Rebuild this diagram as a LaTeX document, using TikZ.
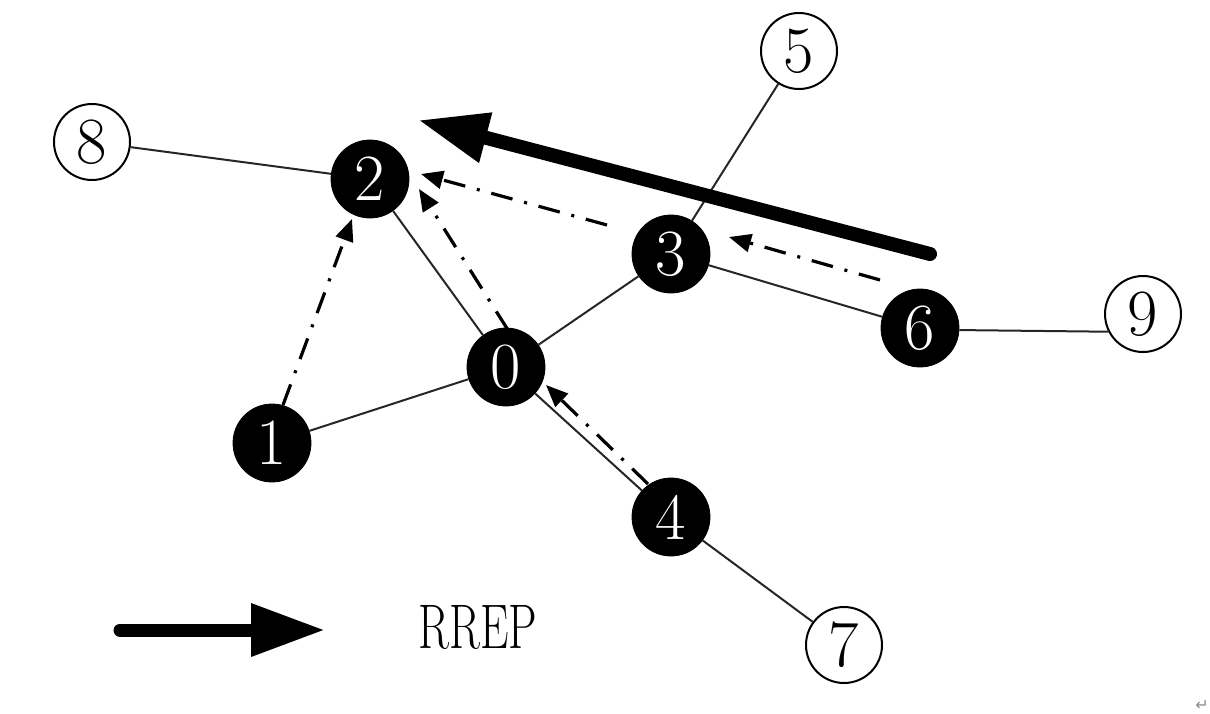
\documentclass[tikz,border=0pt]{standalone}
\usepackage{fontspec}
\newfontfamily\symfont{DejaVu Sans}
\usetikzlibrary{arrows.meta}
\tikzset{
  blk/.style={circle, fill=black, draw=black, minimum size=39pt, inner sep=0pt, text=white, font=\fontsize{33}{36}\selectfont},
  wht/.style={circle, fill=white, draw=black, line width=1pt, minimum size=38pt, inner sep=0pt, text=black, font=\fontsize{33}{36}\selectfont},
  edge/.style={line width=1pt, draw=black!85},
  dd/.style={line width=1.6pt, dash pattern=on 11pt off 6pt on 1.5pt off 6pt, -{Triangle[length=11pt,width=9pt]}},
  big/.style={line width=7pt, line cap=round, -{Triangle[length=35pt,width=24pt]}},
}
\begin{document}
\begin{tikzpicture}[x=0.5pt, y=-0.5pt]
\useasboundingbox (0,0) rectangle (1210,713);
% nodes
\node[wht] (n8) at (92,142) {8};
\node[wht] (n5) at (799,51) {5};
\node[wht] (n9) at (1143,314) {9};
\node[wht] (n7) at (844,645) {7};
\node[blk] (n2) at (370,179) {2};
\node[blk] (n3) at (671,254) {3};
\node[blk] (n6) at (920,328) {6};
\node[blk] (n0) at (506,367) {0};
\node[blk] (n1) at (272,443) {1};
\node[blk] (n4) at (671,517) {4};
% solid links
\draw[edge] (n8) -- (n2);
\draw[edge] (n2) -- (n0);
\draw[edge] (n0) -- (n3);
\draw[edge] (n3) -- (n5);
\draw[edge] (n0) -- (n1);
\draw[edge] (n0) -- (n4);
\draw[edge] (n4) -- (n7);
\draw[edge] (n3) -- (n6);
\draw[edge] (n6.-3) -- (n9.207);
% dash-dot route arrows
\coordinate (c1a) at (283,405); \coordinate (c1b) at (352,219);
\coordinate (c0a) at (508,330); \coordinate (c0b) at (419,189);
\coordinate (c3a) at (607,225); \coordinate (c3b) at (421,174);
\coordinate (c4a) at (648,484); \coordinate (c4b) at (546,385);
\coordinate (c6a) at (880,280); \coordinate (c6b) at (729,237);
\draw[dd] (c1a) -- (c1b);
\draw[dd] (c0a) -- (c0b);
\draw[dd] (c3a) -- (c3b);
\draw[dd] (c4a) -- (c4b);
\draw[dd] (c6a) -- (c6b);
% big RREP arrow
\coordinate (bA) at (930,254); \coordinate (bB) at (418,120);
\draw[big] (bA) -- (bB);
% legend
\coordinate (lA) at (120,630); \coordinate (lB) at (325,630);
\draw[big, line width=6.5pt, -{Triangle[length=37pt,width=25pt]}] (lA) -- (lB);
\node[font=\fontsize{31.5}{34}\selectfont, xscale=0.72, inner sep=0pt] (rrep) at (478,627) {RREP};
\node[text=black!45, font=\symfont\fontsize{8}{9}\selectfont, inner sep=0pt] (pm) at (1202,705) {↵};
\end{tikzpicture}
\end{document}
